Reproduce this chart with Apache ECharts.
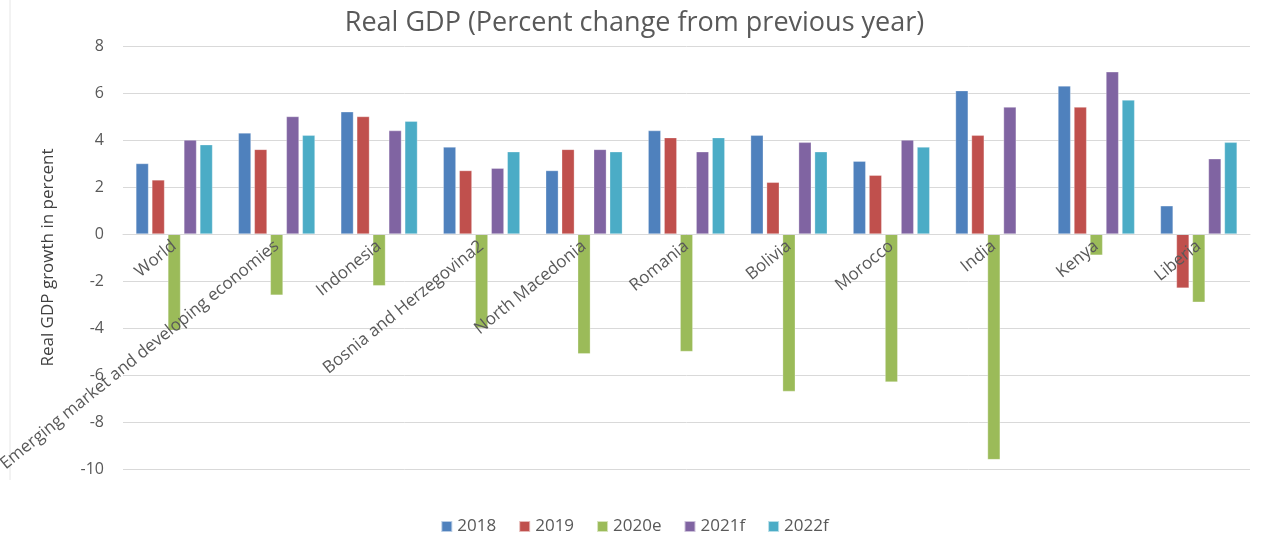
<!DOCTYPE html>
<html>
<head>
<meta charset="utf-8">
<script src="https://cdn.jsdelivr.net/npm/echarts@6/dist/echarts.min.js"></script>
<style>
  html, body { margin: 0; padding: 0; background: #fff; }
  #chart { width: 1269px; height: 536px; }
</style>
</head>
<body>
<div id="chart"></div>
<script>
// categories and values
var categories = ['World', 'Emerging market and developing economies', 'Indonesia',
  'Bosnia and Herzegovina2', 'North Macedonia', 'Romania', 'Bolivia', 'Morocco',
  'India', 'Kenya', 'Liberia'];
var seriesNames = ['2018', '2019', '2020e', '2021f', '2022f'];
var y2018 = [3.0, 4.3, 5.2, 3.7, 2.7, 4.4, 4.2, 3.1, 6.1, 6.3, 1.2];
var y2019 = [2.3, 3.6, 5.0, 2.7, 3.6, 4.1, 2.2, 2.5, 4.2, 5.4, -2.3];
var y2020e = [-4.1, -2.6, -2.2, -4.0, -5.1, -5.0, -6.7, -6.3, -9.6, -0.9, -2.9];
var y2021f = [4.0, 5.0, 4.4, 2.8, 3.6, 3.5, 3.9, 4.0, 5.4, 6.9, 3.2];
var y2022f = [3.8, 4.2, 4.8, 3.5, 3.5, 4.1, 3.5, 3.7, null, 5.7, 3.9];
var yTicks = { min: -10, max: 8, interval: 2 };

var colors = ['#4f81bd', '#c0504d', '#9bbb59', '#8064a2', '#4bacc6'];
var allData = [y2018, y2019, y2020e, y2021f, y2022f];

// plot box (px)
var gridTop = 46, gridBottom = 67, plotH = 536 - gridTop - gridBottom;
// the category labels sit on the zero line, like the original
var zeroOffset = -plotH * (0 - yTicks.min) / (yTicks.max - yTicks.min);

var myChart = echarts.init(document.getElementById('chart'));
var series = seriesNames.map(function (name, i) {
  return {
    name: name,
    type: 'bar',
    data: allData[i],
    barWidth: 12.6,
    barGap: '27%',
    itemStyle: { color: colors[i], borderColor: 'rgba(255,255,255,0.6)', borderWidth: 0.5 }
  };
});

var option = {
  animation: false,
  color: colors,
  textStyle: { fontFamily: 'Open Sans' },
  title: {
    text: 'Real GDP (Percent change from previous year)',
    left: 'center',
    top: 5,
    textStyle: { fontSize: 27, fontWeight: 'normal', color: '#595959', fontFamily: 'Open Sans' }
  },
  legend: {
    data: seriesNames,
    bottom: -4,
    left: 'center',
    itemWidth: 11,
    itemHeight: 11,
    itemGap: 22,
    icon: 'rect',
    selectedMode: false,
    textStyle: { fontSize: 17, color: '#595959' }
  },
  graphic: [{
    type: 'line',
    shape: { x1: 10, y1: 0, x2: 10, y2: 480 },
    style: { stroke: '#e6e6e6', lineWidth: 1 }
  }],
  grid: { left: 123, right: 19, top: gridTop, bottom: gridBottom, outerBoundsMode: 'none', containLabel: false },
  xAxis: {
    type: 'category',
    data: categories,
    offset: zeroOffset,
    z: 5,
    axisLine: { onZero: false, lineStyle: { color: '#d9d9d9', width: 1 } },
    axisTick: { show: false },
    axisLabel: {
      rotate: 39,
      interval: 0,
      margin: 10,
      fontSize: 17,
      color: '#595959',
      fontFamily: 'Open Sans'
    }
  },
  yAxis: {
    type: 'value',
    min: yTicks.min,
    max: yTicks.max,
    interval: yTicks.interval,
    name: 'Real GDP growth in percent',
    nameLocation: 'middle',
    nameGap: 66,
    nameTextStyle: { fontSize: 17, color: '#404040', fontFamily: 'Open Sans' },
    axisLine: { show: false },
    axisTick: { show: false },
    axisLabel: { fontSize: 16, color: '#595959', margin: 19 },
    splitLine: { lineStyle: { color: '#d9d9d9', width: 1 } }
  },
  series: series
};
myChart.setOption(option);
</script>
</body>
</html>
